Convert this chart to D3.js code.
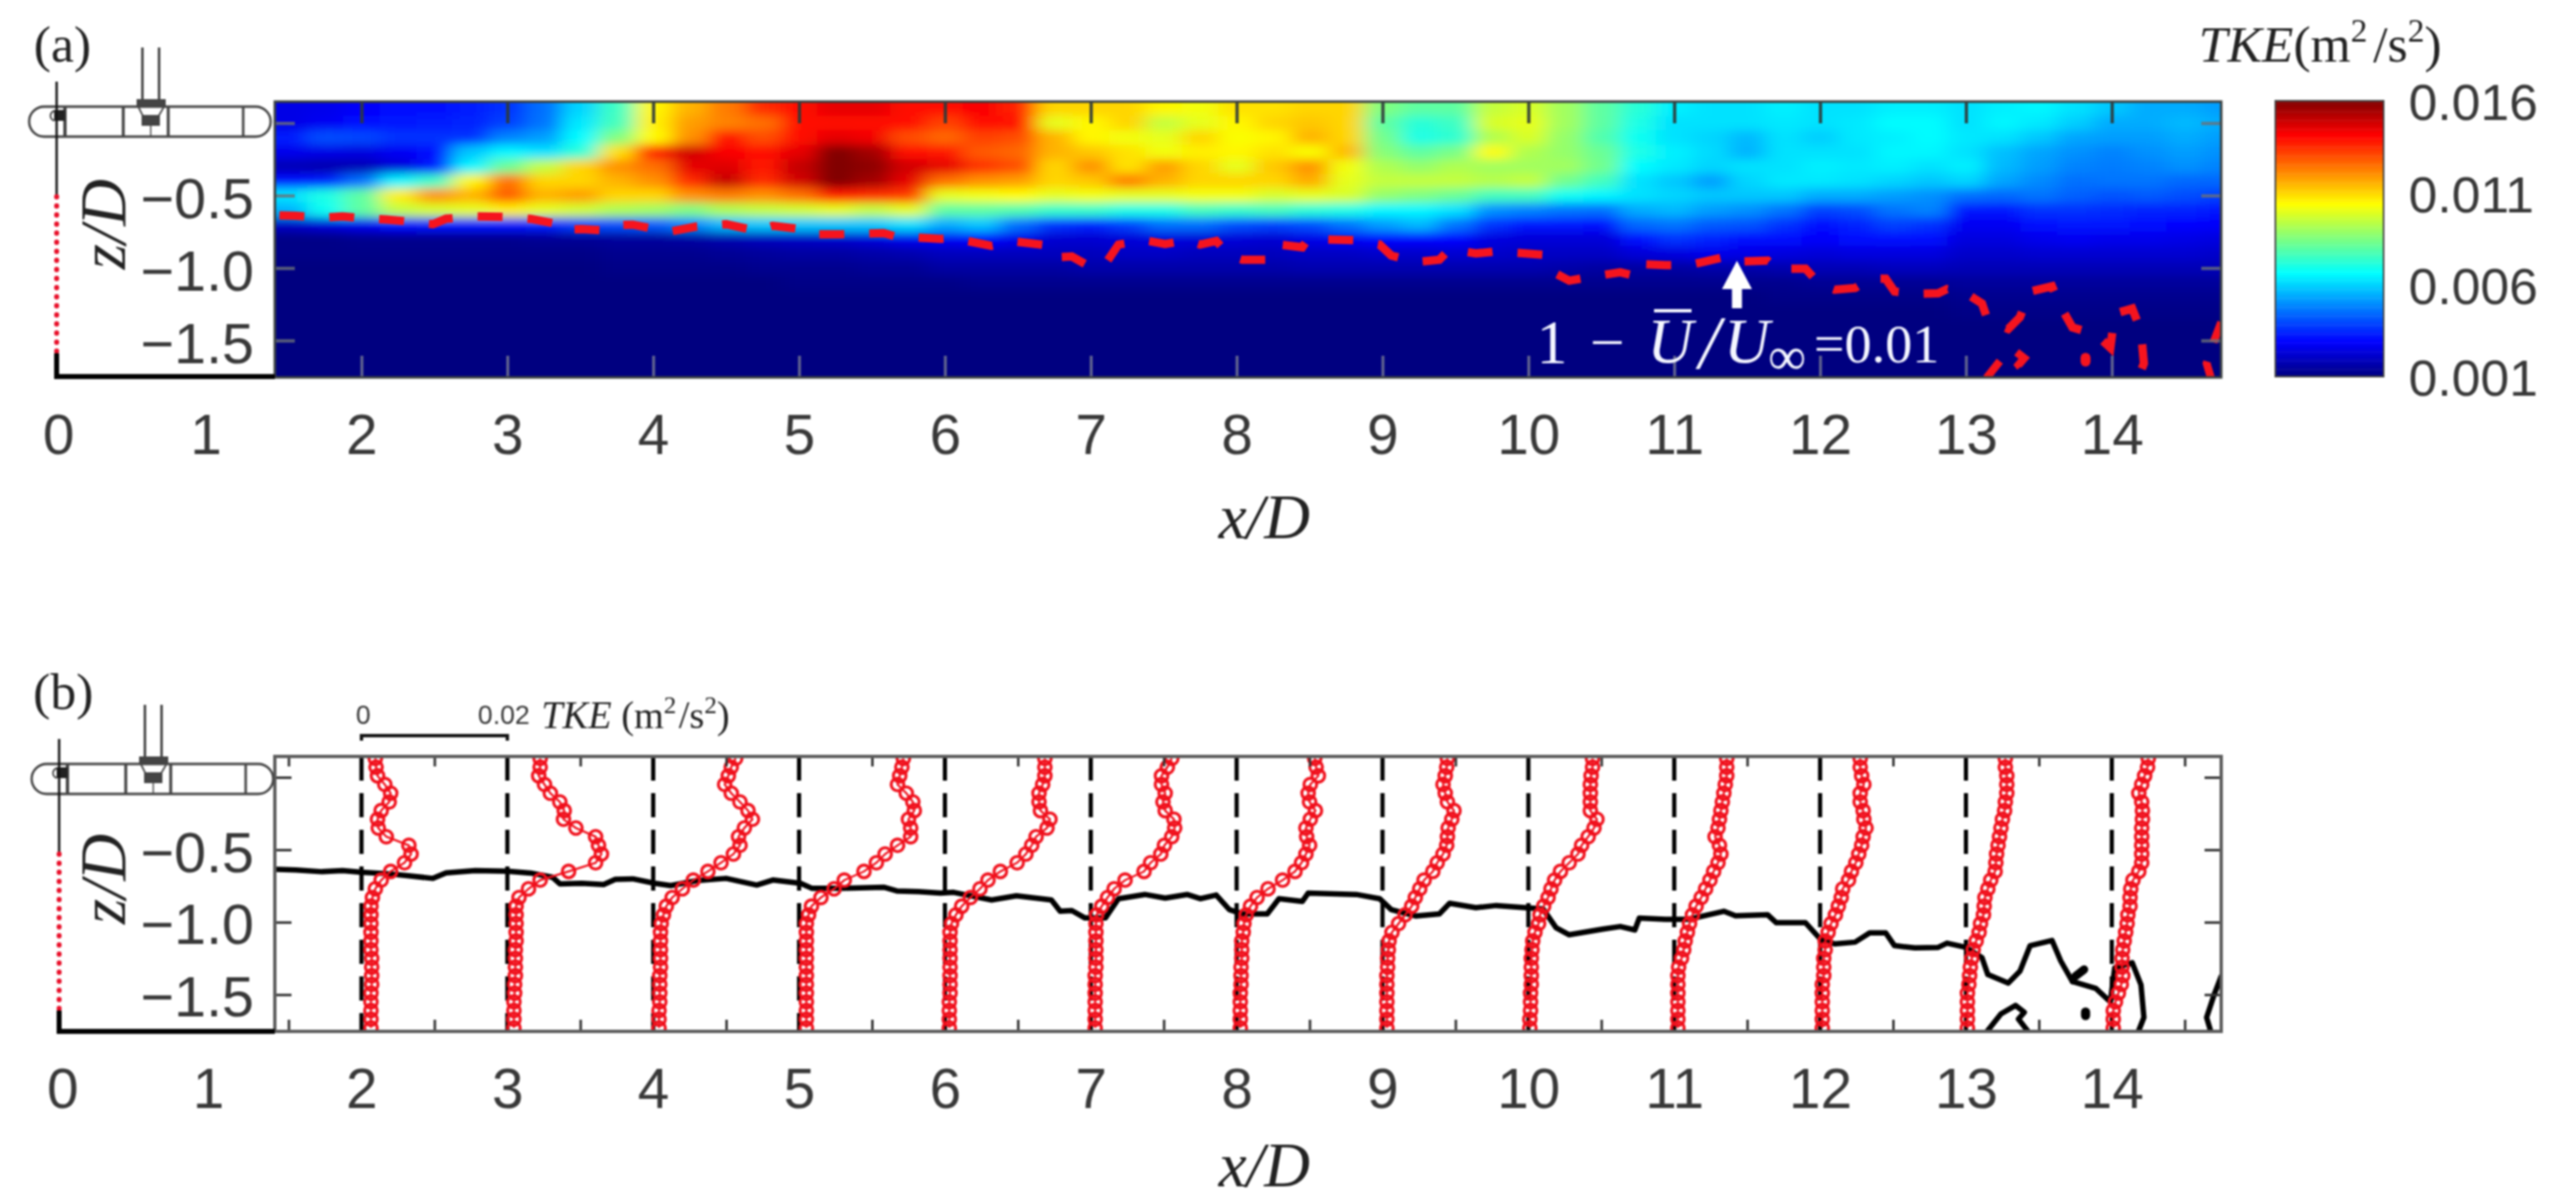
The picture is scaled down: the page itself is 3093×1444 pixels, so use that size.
<!DOCTYPE html>
<html>
<head>
<meta charset="utf-8">
<script src="https://cdn.jsdelivr.net/npm/d3@7"></script>
<style>
  html, body { margin: 0; padding: 0; background: #fff; }
  svg { display: block; filter: blur(1px); }
  .num { font-family: "Liberation Sans", Arial, sans-serif; fill: #383838; }
  .ser { font-family: "Liberation Serif", "Times New Roman", serif; fill: #222; }
  .ital { font-style: italic; }
</style>
</head>
<body>
<div id="viz"></div>
<script>
// TKE values below are in units of 1e-3 m2/s2
const heatX = [1.5,1.75,2,2.25,2.5,2.75,3,3.25,3.5,3.75,4,4.25,4.5,4.75,5,5.25,5.5,5.75,
  6,6.25,6.5,6.75,7,7.25,7.5,7.75,8,8.25,8.5,8.75,9,9.25,9.5,9.75,10,10.25,
  10.5,10.75,11,11.25,11.5,11.75,12,12.25,12.5,12.75,13,13.25,13.5,13.75,14,14.25,14.5,14.75];
const heatZ = [0.1,0,-0.1,-0.2,-0.3,-0.4,-0.5,-0.6,-0.7,-0.8,-0.9,-1,-1.1,-1.2,-1.3,-1.4,-1.5,-1.6,-1.7];
const heatRows = [
  [2.5,2.6,2.8,3,3.1,3.3,3.6,4.5,6,7.5,10.5,11.5,12.3,13.5,14,14.5,14.5,14,
   14,14.2,13.6,11,11,11,10.5,10.2,10.8,10.8,11,11,8.5,8,8,9.5,9.8,9,
   8,7.2,6.4,6.2,6.2,6.4,6.2,6.2,6.4,6.4,6.2,6.4,6.5,6.2,5.8,5.4,5.4,5.2],
  [2.5,2.7,3,3.2,3.3,3.4,3.8,4.6,6.3,7.6,10.6,11.8,12.2,12.5,14,14,14,14,
   13.2,14,14,10,10.5,11,9.5,10,10.5,11,11.2,11,8,7.2,7.5,9.8,10,9,
   8,7,6.2,6.2,6.2,6.3,6.2,6.3,6.6,6.6,6.2,6.5,6.3,5.9,5.4,5.4,5.6,5.4],
  [3.3,4,3.9,3.6,3.6,3.6,4.8,5.2,6.6,8.5,10.4,12,14,13,14,14.5,14.3,13,
   12.6,13.2,13,11.5,10.5,10.2,10,11,10.3,10.5,11.5,11,8.3,7,7.3,9.2,9.8,8.8,
   7.8,6.8,6.2,6,5.6,6.2,5.9,6.3,6.4,6.6,6.3,6.2,5.8,5.3,5.2,5.2,5.4,5.2],
  [2.6,2.5,2.4,2.7,3,5.8,6.5,6.2,7.2,10.8,13.8,14.8,14.2,14,14.5,16,15.5,14,
   13.8,12.8,12.6,11.5,11.2,10.8,10.2,10.6,10.5,10.8,10.3,11.4,8.6,8,8.4,10.4,9.2,8.8,
   8.2,7,6.4,6.1,5.5,6.2,6.2,6.2,6.5,6.5,6.2,5.7,5.3,5,4.8,5,5.2,5],
  [1.8,1.7,1.8,2.3,3.2,6.5,8.2,9.5,11,12,12.5,14.5,14.6,13.8,15,16,15.8,14.8,
   14.5,13.4,13,11,12,10.8,11.8,11,10,11.2,12,10.2,9.2,8.8,9.2,9,9,9,
   8.3,6.6,6.3,6,6.2,6.2,6.4,6.3,6.4,6.2,6.4,5.6,5.2,4.8,4.7,4.8,5,4.8],
  [3,3.3,4.5,6.5,7.5,10.5,12.5,11,11,11.5,12,13.5,15,13.5,14.8,16,15.5,14.5,
   12.5,12,11.8,11,11.2,12.3,11.5,11,11,11,11.6,10,9.5,9.5,9.5,9.3,9.5,8.3,
   7.6,6.2,5.8,5.2,6,6.3,6.3,6.2,6,5.8,6,5.3,4.9,4.5,4.6,4.6,4.4,4.4],
  [6.2,7,8,10.6,12,11.5,12.8,11.5,11.8,11,11,12,12.3,12,12.5,13.8,13.5,13.3,
   10,10.2,10.4,10,10.2,10,10,10.2,10.2,9.8,10,9.8,8.8,8.5,8.2,7.6,7.6,6.8,
   6.5,6.2,6,5.8,5.8,5.8,5.4,5.4,5.2,5,4.5,4.4,4.6,4.3,4.1,4.2,4,3.8],
  [5.5,6.8,8,9.5,9.8,10,10.6,10,9.7,9.2,9,8.5,9.2,9.5,9.7,10,9.5,10,
   8,8,7.8,7.4,7.4,7,7,7.6,7.4,7.6,7.2,7,6.5,6.5,6.2,5,4.8,4.6,
   4.5,5.4,5.6,5.2,5,4.6,3.8,4,4.6,4.8,3.2,3.2,3.6,3.6,3.5,3.4,3.4,3.2],
  [2,2.3,2.6,3,3.2,3.2,3.2,3.3,3.8,4,4.2,4.8,5.6,5.8,5.8,5.8,5.8,6.2,
   5.4,5.8,4.5,3.6,3.4,3.8,4.5,4.5,4,3.8,4,4.6,5.2,5.6,4.6,3.6,3.2,3.2,
   3,4.4,4.6,4.2,4.1,3.6,3.1,3.4,3.8,3.6,2.7,2.7,3,3.2,3.2,3,2.9,2.8],
  [1.1,1.1,1.2,1.2,1.2,1.2,1.2,1.3,1.3,1.4,1.4,1.5,1.7,1.9,2,2.1,2.3,2.6,
   2.7,2.9,2.6,2.2,2.2,2.3,2.4,2.3,2.3,2.2,2.5,2.7,2.9,2.9,2.9,2.4,2.3,2.3,
   2.3,3,3.6,3.4,3,3,2.8,3,3.1,3,2.4,2.4,2.6,2.7,2.6,2.6,2.5,2.4],
  [1.1,1.1,1.1,1.1,1.1,1.1,1.1,1.1,1.1,1.2,1.2,1.2,1.3,1.4,1.5,1.5,1.6,1.7,
   1.9,1.9,1.9,1.9,1.9,2,2,1.9,1.9,1.9,2,2,2.1,2.1,2.2,2.1,2,2,
   2,2.3,2.4,2.6,2.5,2.4,2.3,2.4,2.4,2.4,2.1,2.1,2.2,2.2,2.2,2.2,2.2,2.1],
  [1,1,1,1,1,1,1,1,1,1.1,1.1,1.1,1.1,1.2,1.2,1.2,1.3,1.3,
   1.5,1.5,1.5,1.5,1.6,1.6,1.6,1.6,1.6,1.6,1.7,1.7,1.7,1.7,1.7,1.7,1.7,1.6,
   1.5,1.5,1.5,1.6,1.6,1.7,1.8,1.8,1.9,1.9,1.8,1.8,1.8,1.8,1.8,1.8,1.8,1.8],
  [1,1,1,1,1,1,1,1,1,1,1,1,1,1,1.1,1.1,1.1,1.1,
   1.1,1.2,1.2,1.2,1.2,1.2,1.2,1.2,1.2,1.2,1.2,1.2,1.2,1.2,1.2,1.2,1.2,1.2,
   1.2,1.2,1.2,1.2,1.2,1.2,1.3,1.3,1.3,1.3,1.4,1.4,1.4,1.4,1.4,1.4,1.4,1.4],
  [1,1,1,1,1,1,1,1,1,1,1,1,1,1,1,1,1,1,
   1,1,1,1,1,1,1,1,1,1,1,1,1,1,1,1,1,1,
   1,1,1,1,1,1.1,1.1,1.1,1.1,1.1,1.2,1.2,1.2,1.2,1.2,1.2,1.2,1.2],
  [1,1,1,1,1,1,1,1,1,1,1,1,1,1,1,1,1,1,
   1,1,1,1,1,1,1,1,1,1,1,1,1,1,1,1,1,1,
   1,1,1,1,1,1,1,1,1,1,1.1,1.1,1.1,1.1,1.1,1.1,1.1,1.1],
  [1,1,1,1,1,1,1,1,1,1,1,1,1,1,1,1,1,1,
   1,1,1,1,1,1,1,1,1,1,1,1,1,1,1,1,1,1,
   1,1,1,1,1,1,1,1,1,1,1,1,1,1,1,1,1,1],
  [1,1,1,1,1,1,1,1,1,1,1,1,1,1,1,1,1,1,
   1,1,1,1,1,1,1,1,1,1,1,1,1,1,1,1,1,1,
   1,1,1,1,1,1,1,1,1,1,1,1,1,1,1,1,1,1],
  [1,1,1,1,1,1,1,1,1,1,1,1,1,1,1,1,1,1,
   1,1,1,1,1,1,1,1,1,1,1,1,1,1,1,1,1,1,
   1,1,1,1,1,1,1,1,1,1,1,1,1,1,1,1,1,1],
  [1,1,1,1,1,1,1,1,1,1,1,1,1,1,1,1,1,1,
   1,1,1,1,1,1,1,1,1,1,1,1,1,1,1,1,1,1,
   1,1,1,1,1,1,1,1,1,1,1,1,1,1,1,1,1,1]
];

// 1 - U/Uinf = 0.01 contour, same line in both panels
const contourMain = [[1.42,-0.636],[1.55,-0.64],[1.73,-0.652],[1.87,-0.644],[2,-0.655],[2.17,-0.665],[2.31,-0.678],[2.49,-0.698],[2.58,-0.66],[2.78,-0.644],[3,-0.648],[3.16,-0.661],[3.31,-0.69],[3.36,-0.736],[3.51,-0.732],[3.66,-0.74],[3.74,-0.705],[3.86,-0.701],[4.01,-0.732],[4.12,-0.748],[4.3,-0.713],[4.5,-0.698],[4.71,-0.744],[4.82,-0.709],[5.01,-0.732],[5.09,-0.767],[5.29,-0.767],[5.58,-0.759],[5.67,-0.785],[5.82,-0.79],[5.97,-0.799],[6.06,-0.794],[6.15,-0.813],[6.32,-0.847],[6.49,-0.818],[6.73,-0.847],[6.79,-0.924],[6.87,-0.92],[6.96,-0.971],[7.1,-0.971],[7.19,-0.838],[7.37,-0.809],[7.51,-0.834],[7.66,-0.809],[7.75,-0.838],[7.86,-0.813],[7.95,-0.914],[8.04,-0.943],[8.21,-0.943],[8.29,-0.838],[8.45,-0.857],[8.49,-0.8],[8.82,-0.809],[8.98,-0.838],[9.06,-0.914],[9.23,-0.958],[9.39,-0.943],[9.46,-0.87],[9.64,-0.9],[9.78,-0.885],[10.1,-0.908],[10.19,-1.039],[10.28,-1.087],[10.51,-1.048],[10.63,-1.03],[10.73,-1.054],[10.76,-0.972],[10.94,-0.98],[11.1,-0.98],[11.34,-0.925],[11.42,-0.956],[11.64,-0.949],[11.7,-1.004],[11.9,-1.004],[12,-1.115],[12.1,-1.15],[12.24,-1.138],[12.34,-1.074],[12.45,-1.074],[12.51,-1.162],[12.65,-1.178],[12.81,-1.174],[12.87,-1.145],[13,-1.174],[13.11,-1.245],[13.15,-1.362],[13.29,-1.421],[13.37,-1.339],[13.44,-1.162],[13.59,-1.126],[13.65,-1.268],[13.73,-1.41],[13.89,-1.457],[13.99,-1.55],[14.02,-1.315],[14.14,-1.28],[14.2,-1.433],[14.22,-1.658],[14.18,-1.76]];
const contourIsland = [[13.14,-1.76],[13.24,-1.633],[13.34,-1.575],[13.4,-1.622],[13.36,-1.669],[13.43,-1.76]];
const contourEdge = [[14.75,-1.374],[14.7,-1.505],[14.65,-1.658],[14.68,-1.76]];
const contourSpur = [[13.73,-1.41],[13.75,-1.374],[13.81,-1.327]];
const contourDot = [[13.82,-1.62],[13.82,-1.645]];

// profile heights and TKE at each station of panel (b)
const profileZ = [0.13,0.07,0.01,-0.05,-0.11,-0.17,-0.23,-0.29,-0.35,-0.41,-0.47,-0.53,-0.59,-0.65,-0.71,-0.77,-0.83,-0.89,-0.95,-1.01,-1.07,-1.13,-1.19,-1.25,-1.31,-1.37,-1.43,-1.49,-1.55,-1.61,-1.67,-1.73];
const stations = [2,3,4,5,6,7,8,9,10,11,12,13,14];
const profile2 = [1.9,2,2.2,3.2,4,3.8,2.7,2.2,2.3,3.4,6.5,6.8,5.9,4,2.7,1.9,1.5,1.3,1.3,1.3,1.3,1.3,1.3,1.4,1.4,1.4,1.4,1.3,1.3,1.3,1.3,1.3];
const profile3 = [4.5,4.5,4.3,5.1,5.9,7.2,7.8,7.7,9.4,12.1,12.5,12.9,12.1,8.4,4.5,2.9,1.6,1.2,1.2,1.2,1.2,1.2,1.1,1.1,1.1,1.1,1,1,0.9,0.9,0.9,0.9];
const profile4 = [11.3,10.7,10.3,9.8,10.7,11.9,13,13.6,12.5,11.7,11.9,11,9.3,7.5,5.5,4,2.6,1.8,1.4,1.1,1,1,1,1,1,0.9,0.9,0.9,0.9,0.8,0.8,0.8];
const profile5 = [14.3,14.1,13.8,13.5,14.7,15.6,15.8,15,15.3,15.3,13.5,11.8,10.6,8.9,6.2,4.8,3,1.7,1.3,1,1,1,1,1,1,1,1,1,1,1,1,1];
const profile6 = [13.7,13.7,13.7,13.4,12.9,12.9,13.1,14.4,14,12.5,11.9,11.1,9.9,7.6,5.9,4.8,3.5,2.3,1.5,0.9,0.7,0.7,0.7,0.7,0.7,0.7,0.7,0.7,0.6,0.6,0.6,0.6];
const profile7 = [11.1,10.5,9.7,9.7,10.2,9.9,10.2,11.4,11.5,11.1,10.1,9.6,8.2,7.3,4.7,3.2,2.3,1.5,0.8,0.7,0.7,0.7,0.7,0.7,0.7,0.6,0.6,0.6,0.6,0.6,0.6,0.6];
const profile8 = [10.7,10.9,11.2,10.1,9.8,10,10.8,10.1,9.5,9.6,10,9.5,8.9,8,6.3,4.3,2.8,1.9,1.3,1,0.9,0.7,0.7,0.7,0.6,0.6,0.6,0.5,0.5,0.5,0.5,0.5];
const profile9 = [8.9,8.8,8.6,8.3,8.6,8.9,9.8,9.5,9,8.9,8.8,8.3,7.5,6.9,5.7,5.1,4.5,4,3.1,2.2,1.3,0.9,0.8,0.7,0.7,0.6,0.6,0.6,0.6,0.6,0.6,0.6];
const profile10 = [8.8,8.8,8.6,8.5,8.5,8.5,8.5,9.4,9,8.2,7.3,6.8,5.6,4.4,3.6,3.1,2.7,2.1,1.6,1.4,0.9,0.6,0.5,0.4,0.4,0.4,0.4,0.3,0.3,0.3,0.2,0.2];
const profile11 = [7.2,7.2,7.2,7,6.8,6.6,6.4,6.2,6,5.6,6.2,6.4,6,5.4,4.9,4.3,3.7,3,2.5,2.1,1.8,1.5,1.3,1,0.6,0.5,0.5,0.5,0.5,0.5,0.5,0.5];
const profile12 = [5.5,5.5,5.7,6,5.5,5.5,5.9,6,6.3,5.9,5.7,5.3,4.9,4.3,3.9,3.1,2.9,2.5,2.1,1.5,1.1,0.7,0.7,0.5,0.5,0.5,0.3,0.3,0.3,0.3,0.3,0.3];
const profile13 = [5.4,5.4,5.6,5.6,5.6,5.4,5.3,5,4.8,4.6,4.4,4.2,4.1,4,3.4,3,2.6,2.5,2.4,2,1.8,1.4,1,0.8,0.6,0.5,0.4,0.2,0.2,0.2,0.2,0.2];
const profile14 = [5,4.9,4.5,4.1,3.7,4.1,4.2,4.2,4.1,4.1,4.1,4.1,4.1,3.7,2.9,2.6,2.5,2.5,2.2,2.1,1.9,1.7,1.5,1.4,1.4,1.5,1.3,0.9,0.5,0.2,0.2,0.2];
const profiles = [profile2,profile3,profile4,profile5,profile6,profile7,profile8,profile9,profile10,profile11,profile12,profile13,profile14];

const xLabels = d3.range(0, 15);
const zTicks = [-0.5, -1, -1.5];
const zTickMarks = [0, -0.5, -1, -1.5];
const colorbarTicks = [1, 6, 11, 16];
const jetStops = ["#000080","#0000ff","#00ffff","#ffff00","#ff0000","#800000"];
const jetDomain = [1, 2.875, 6.625, 10.375, 14.125, 16];

const svg = d3.select("#viz").append("svg")
  .attr("width", 3093).attr("height", 1444)
  .attr("viewBox", "0 0 3093 1444");

const defs = svg.append("defs");
const left = 330, right = 2667;

const x = d3.scaleLinear().domain([1.406, 14.75]).range([left, right]);
const yA = d3.scaleLinear().domain([0.1477, -1.7546]).range([122, 453]);
const yB = d3.scaleLinear().domain([0.1437, -1.754]).range([908, 1238]);
const color = d3.scaleLinear().domain(jetDomain).range(jetStops).clamp(true);

defs.append("filter").attr("id", "soft")
  .attr("filterUnits", "userSpaceOnUse")
  .attr("x", 200).attr("y", 0).attr("width", 2600).attr("height", 600)
  .append("feGaussianBlur").attr("stdDeviation", "12 6");
defs.append("clipPath").attr("id", "clipA").append("rect")
  .attr("x", left).attr("y", 122).attr("width", right - left).attr("height", 331);
defs.append("clipPath").attr("id", "clipB").append("rect")
  .attr("x", left).attr("y", 908).attr("width", right - left).attr("height", 330);

function styleTicks(g, stroke, width, opacity) {
  g.select(".domain").remove();
  g.selectAll("line").attr("stroke", stroke).attr("stroke-width", width).attr("opacity", opacity);
  g.selectAll("text").remove();
}

function drawIcon(dx, dy, botY) {
  const g = svg.append("g").attr("transform", `translate(${dx},${dy})`)
    .attr("fill", "none").attr("stroke", "#444").attr("stroke-width", 2.8);
  g.append("rect").attr("x", 35).attr("y", 128).attr("width", 290).attr("height", 36).attr("rx", 18).attr("fill", "#fff");
  [[78, 4], [148, 3.5], [202, 3.5], [292, 3]].forEach(d => {
    g.append("line").attr("x1", d[0]).attr("x2", d[0]).attr("y1", 128).attr("y2", 164).attr("stroke-width", d[1]);
  });
  g.append("rect").attr("x", 65).attr("y", 132).attr("width", 13).attr("height", 13).attr("fill", "#222").attr("stroke", "none");
  g.append("path").attr("d", "M65,133 A9,7 0 0 0 65,145").attr("stroke-width", 2);
  g.append("rect").attr("x", 164).attr("y", 119).attr("width", 35).attr("height", 9).attr("fill", "#444").attr("stroke", "none");
  g.append("path").attr("d", "M166,128 L172,140 L190,140 L197,128").attr("stroke-width", 2);
  g.append("rect").attr("x", 170).attr("y", 138).attr("width", 22).attr("height", 13).attr("fill", "#444").attr("stroke", "none");
  g.append("line").attr("x1", 181).attr("x2", 181).attr("y1", 151).attr("y2", 164).attr("stroke-width", 1.5);
  [171, 191].forEach(d => {
    g.append("line").attr("x1", d).attr("x2", d).attr("y1", 57).attr("y2", 119).attr("stroke", "#333");
  });
  g.append("line").attr("x1", 68).attr("x2", 68).attr("y1", 98).attr("y2", 235).attr("stroke", "#111").attr("stroke-width", 2.8);
  g.append("line").attr("x1", 68).attr("x2", 68).attr("y1", 236).attr("y2", 423)
    .attr("stroke", "#e8102a").attr("stroke-width", 6).attr("stroke-linecap", "round").attr("stroke-dasharray", "0.5 10.4");
  // black wall under the dotted part, then along the bottom to the plot
  g.append("path").attr("d", `M68,424 L68,${botY - dy} L${330 - dx},${botY - dy}`)
    .attr("stroke", "#000").attr("stroke-width", 6);
}

function drawNumbers(y, labelScale, baseY, zDy) {
  svg.append("g").attr("transform", `translate(0,${baseY})`)
    .call(d3.axisBottom(labelScale).tickValues(xLabels).tickSize(0).tickPadding(0).tickFormat(d3.format("d")))
    .call(g => g.select(".domain").remove())
    .call(g => g.selectAll("text").attr("class", "num").attr("font-size", 68).attr("dy", "0.71em")
      .attr("font-family", "Liberation Sans").attr("fill", "#383838"));
  svg.append("g").attr("transform", `translate(${left},${zDy})`)
    .call(d3.axisLeft(y).tickValues(zTicks).tickSize(0).tickPadding(25).tickFormat(d3.format(".1f")))
    .call(g => g.select(".domain").remove())
    .call(g => g.selectAll("text").attr("class", "num").attr("font-size", 69)
      .attr("font-family", "Liberation Sans").attr("fill", "#383838"));
}

function serifLabel(text, px, py, size, rotate) {
  svg.append("text").attr("class", "ser ital")
    .attr("transform", `translate(${px},${py})` + (rotate ? " rotate(-90)" : ""))
    .attr("text-anchor", "middle").attr("font-size", size).text(text);
}

// ---- panel (a): heat map
const cells = [];
heatRows.forEach((row, j) => {
  row.forEach((v, i) => cells.push({ i, j, v }));
});
const heat = svg.append("g").attr("clip-path", "url(#clipA)")
  .append("g").attr("filter", "url(#soft)");
heat.selectAll("rect").data(cells).enter().append("rect")
  .attr("x", d => x(heatX[d.i] - (d.i === 0 ? 0.5 : 0.125)))
  .attr("width", d => x(heatX[d.i] + (d.i === heatX.length - 1 ? 0.5 : 0.125)) - x(heatX[d.i] - (d.i === 0 ? 0.5 : 0.125)) + 1)
  .attr("y", d => yA(heatZ[d.j] + (d.j === 0 ? 0.4 : 0.05)))
  .attr("height", d => yA(heatZ[d.j] - (d.j === heatZ.length - 1 ? 0.4 : 0.05)) - yA(heatZ[d.j] + (d.j === 0 ? 0.4 : 0.05)) + 1)
  .attr("fill", d => color(d.v));

const line = y => d3.line().x(d => x(d[0])).y(d => y(d[1]));

const redContours = svg.append("g").attr("clip-path", "url(#clipA)").attr("fill", "none");
redContours.append("path").datum(contourMain).attr("d", line(yA))
  .attr("stroke", "#f5141e").attr("stroke-width", 10).attr("stroke-dasharray", "30 30").attr("stroke-dashoffset", -3);
[contourIsland, contourEdge].forEach(c => {
  redContours.append("path").datum(c).attr("d", line(yA))
    .attr("stroke", "#f5141e").attr("stroke-width", 9.5).attr("stroke-dasharray", "26 24");
});
redContours.append("path").datum(contourDot).attr("d", line(yA))
  .attr("stroke", "#f5141e").attr("stroke-width", 12).attr("stroke-linecap", "round");

svg.append("g").attr("transform", "translate(0,122)")
  .call(d3.axisBottom(x).tickValues(d3.range(2, 15)).tickSize(26).tickFormat(""))
  .call(styleTicks, "#2f3a3a", 4, 0.9);
svg.append("g").attr("transform", "translate(0,453)")
  .call(d3.axisTop(x).tickValues(d3.range(2, 15)).tickSize(26).tickFormat(""))
  .call(styleTicks, "#8a8f96", 3.5, 0.7);
svg.append("g").attr("transform", `translate(${left},0)`)
  .call(d3.axisRight(yA).tickValues(zTickMarks).tickSize(24).tickFormat(""))
  .call(styleTicks, "#6a7078", 4, 0.8);
svg.append("g").attr("transform", `translate(${right},0)`)
  .call(d3.axisLeft(yA).tickValues(zTickMarks).tickSize(24).tickFormat(""))
  .call(styleTicks, "#6a7078", 4, 0.8);
svg.append("rect").attr("x", left).attr("y", 122).attr("width", right - left).attr("height", 331)
  .attr("fill", "none").attr("stroke", "#3a4040").attr("stroke-width", 3);

drawIcon(0, 0, 452);
drawNumbers(yA, d3.scaleLinear().domain([0, 1, 2, 14.75]).range([70, 247, 434, right]), 497, 5);
serifLabel("x/D", 1518, 646, 76);
serifLabel("z/D", 150, 269, 78, true);
svg.append("text").attr("class", "ser").attr("x", 75).attr("y", 74).attr("text-anchor", "middle").attr("font-size", 62).text("(a)");

// arrow and annotation
const arrowX = 11.43;
svg.append("path")
  .attr("d", `M${x(arrowX)},${yA(-0.95)} l18,34 h-12 v23 h-12 v-23 h-12 z`)
  .attr("fill", "#fff");
const ann = svg.append("g").attr("font-family", "Liberation Serif").attr("fill", "#f4f6ff");
ann.append("text").attr("x", 1845).attr("y", 436).attr("font-size", 74).text("1");
ann.append("text").attr("x", 1909).attr("y", 436).attr("font-size", 74).text("\u2212");
ann.append("text").attr("x", 1978).attr("y", 435).attr("font-size", 76).attr("font-style", "italic").text("U");
ann.append("line").attr("x1", 1986).attr("x2", 2031).attr("y1", 373).attr("y2", 373).attr("stroke", "#f4f6ff").attr("stroke-width", 4);
ann.append("text").attr("x", 2040).attr("y", 442).attr("font-size", 90).attr("font-style", "italic").text("/");
ann.append("text").attr("x", 2070).attr("y", 435).attr("font-size", 76).attr("font-style", "italic").text("U");
ann.append("text").attr("x", 2123).attr("y", 449).attr("font-size", 64).text("\u221e");
ann.append("text").attr("x", 2178).attr("y", 435).attr("font-size", 65).text("=0.01");

// colour bar
const cbY = d3.scaleLinear().domain([1, 16]).range([452, 121]);
const cbValues = d3.range(1, 16, 0.05);
svg.append("g").selectAll("rect").data(cbValues).enter().append("rect")
  .attr("x", 2732).attr("width", 130)
  .attr("y", d => cbY(d + 0.05)).attr("height", d => cbY(d) - cbY(d + 0.05) + 0.6)
  .attr("fill", d => color(d));
svg.append("rect").attr("x", 2732).attr("y", 121).attr("width", 130).attr("height", 331)
  .attr("fill", "none").attr("stroke", "#444").attr("stroke-width", 2);
svg.append("g").attr("transform", "translate(2862,3)")
  .call(d3.axisRight(cbY).tickValues(colorbarTicks).tickSize(0).tickPadding(30).tickFormat(d => (d / 1000).toFixed(3)))
  .call(g => g.select(".domain").remove())
  .call(g => g.selectAll("text").attr("font-size", 62).attr("font-family", "Liberation Sans").attr("fill", "#383838"));

const title = svg.append("text").attr("class", "ser").attr("x", 2640).attr("y", 74).attr("font-size", 62);
title.append("tspan").attr("font-style", "italic").text("TKE");
title.append("tspan").text("(m");
title.append("tspan").attr("font-size", 40).attr("dy", -24).text("2");
title.append("tspan").attr("dy", 24).attr("dx", 7).text("/s");
title.append("tspan").attr("font-size", 40).attr("dy", -24).text("2");
title.append("tspan").attr("dy", 24).text(")");

// ---- panel (b): profiles
const panelB = svg.append("g").attr("clip-path", "url(#clipB)");
panelB.append("g").selectAll("line").data(stations).enter().append("line")
  .attr("x1", d => x(d)).attr("x2", d => x(d))
  .attr("y1", yB.range()[0]).attr("y2", yB.range()[1])
  .attr("stroke", "#000").attr("stroke-width", 5).attr("stroke-dasharray", "29 15");

const contourGroup = panelB.append("g").attr("fill", "none").attr("stroke", "#000")
  .attr("stroke-linejoin", "round").attr("stroke-linecap", "round");
[contourMain, contourIsland, contourEdge].forEach(c => {
  contourGroup.append("path").datum(c).attr("d", line(yB)).attr("stroke-width", 6.5);
});
contourGroup.append("path").datum(contourSpur).attr("d", line(yB)).attr("stroke-width", 6.5);
contourGroup.append("path").datum(contourSpur.slice(-2)).attr("d", line(yB)).attr("stroke-width", 10);
contourGroup.append("path").datum(contourDot).attr("d", line(yB)).attr("stroke-width", 11);

stations.forEach((s, k) => {
  const pts = profiles[k].map((v, i) => [s + v / 20, profileZ[i]]);
  const g = panelB.append("g");
  g.append("path").datum(pts).attr("d", line(yB))
    .attr("fill", "none").attr("stroke", "#f0101c").attr("stroke-width", 2.5);
  g.selectAll("circle").data(pts).enter().append("circle")
    .attr("cx", d => x(d[0])).attr("cy", d => yB(d[1])).attr("r", 7.6)
    .attr("fill", "none").attr("stroke", "#f0101c").attr("stroke-width", 3.6);
});

const halfTicks = d3.range(1.5, 15, 1);
svg.append("g").attr("transform", "translate(0,908)")
  .call(d3.axisBottom(x).tickValues(halfTicks).tickSize(12).tickFormat(""))
  .call(styleTicks, "#333", 3, 1);
svg.append("g").attr("transform", "translate(0,1238)")
  .call(d3.axisTop(x).tickValues(halfTicks).tickSize(14).tickFormat(""))
  .call(styleTicks, "#333", 3, 1);
svg.append("g").attr("transform", `translate(${left},0)`)
  .call(d3.axisRight(yB).tickValues(zTickMarks).tickSize(20).tickFormat(""))
  .call(styleTicks, "#333", 3, 1);
svg.append("g").attr("transform", `translate(${right},0)`)
  .call(d3.axisLeft(yB).tickValues(zTickMarks).tickSize(20).tickFormat(""))
  .call(styleTicks, "#333", 3, 1);
svg.append("rect").attr("x", left).attr("y", 908).attr("width", right - left).attr("height", 330)
  .attr("fill", "none").attr("stroke", "#5c5c5c").attr("stroke-width", 4);

drawIcon(3, 789, 1238);
drawNumbers(yB, d3.scaleLinear().domain([0, 1, 2, 14.75]).range([75, 250, 434, right]), 1282, 4);
serifLabel("x/D", 1518, 1424, 76);
serifLabel("z/D", 150, 1055, 78, true);
svg.append("text").attr("class", "ser").attr("x", 76).attr("y", 851).attr("text-anchor", "middle").attr("font-size", 62).text("(b)");

// scale bar above the first two stations
svg.append("path").attr("d", `M${x(2)},889 V883 H${x(3)} V889`)
  .attr("fill", "none").attr("stroke", "#111").attr("stroke-width", 4);
svg.append("text").attr("class", "num").attr("x", x(2) + 2).attr("y", 869).attr("text-anchor", "middle").attr("font-size", 32).text("0");
svg.append("text").attr("class", "num").attr("x", 605).attr("y", 869).attr("text-anchor", "middle").attr("font-size", 32).text("0.02");
const scaleTitle = svg.append("text").attr("class", "ser").attr("x", 650).attr("y", 874).attr("font-size", 46);
scaleTitle.append("tspan").attr("font-style", "italic").text("TKE");
scaleTitle.append("tspan").text(" (m");
scaleTitle.append("tspan").attr("font-size", 30).attr("dy", -18).text("2");
scaleTitle.append("tspan").attr("dy", 18).attr("dx", 3).text("/s");
scaleTitle.append("tspan").attr("font-size", 30).attr("dy", -18).text("2");
scaleTitle.append("tspan").attr("dy", 18).text(")");
</script>
</body>
</html>
